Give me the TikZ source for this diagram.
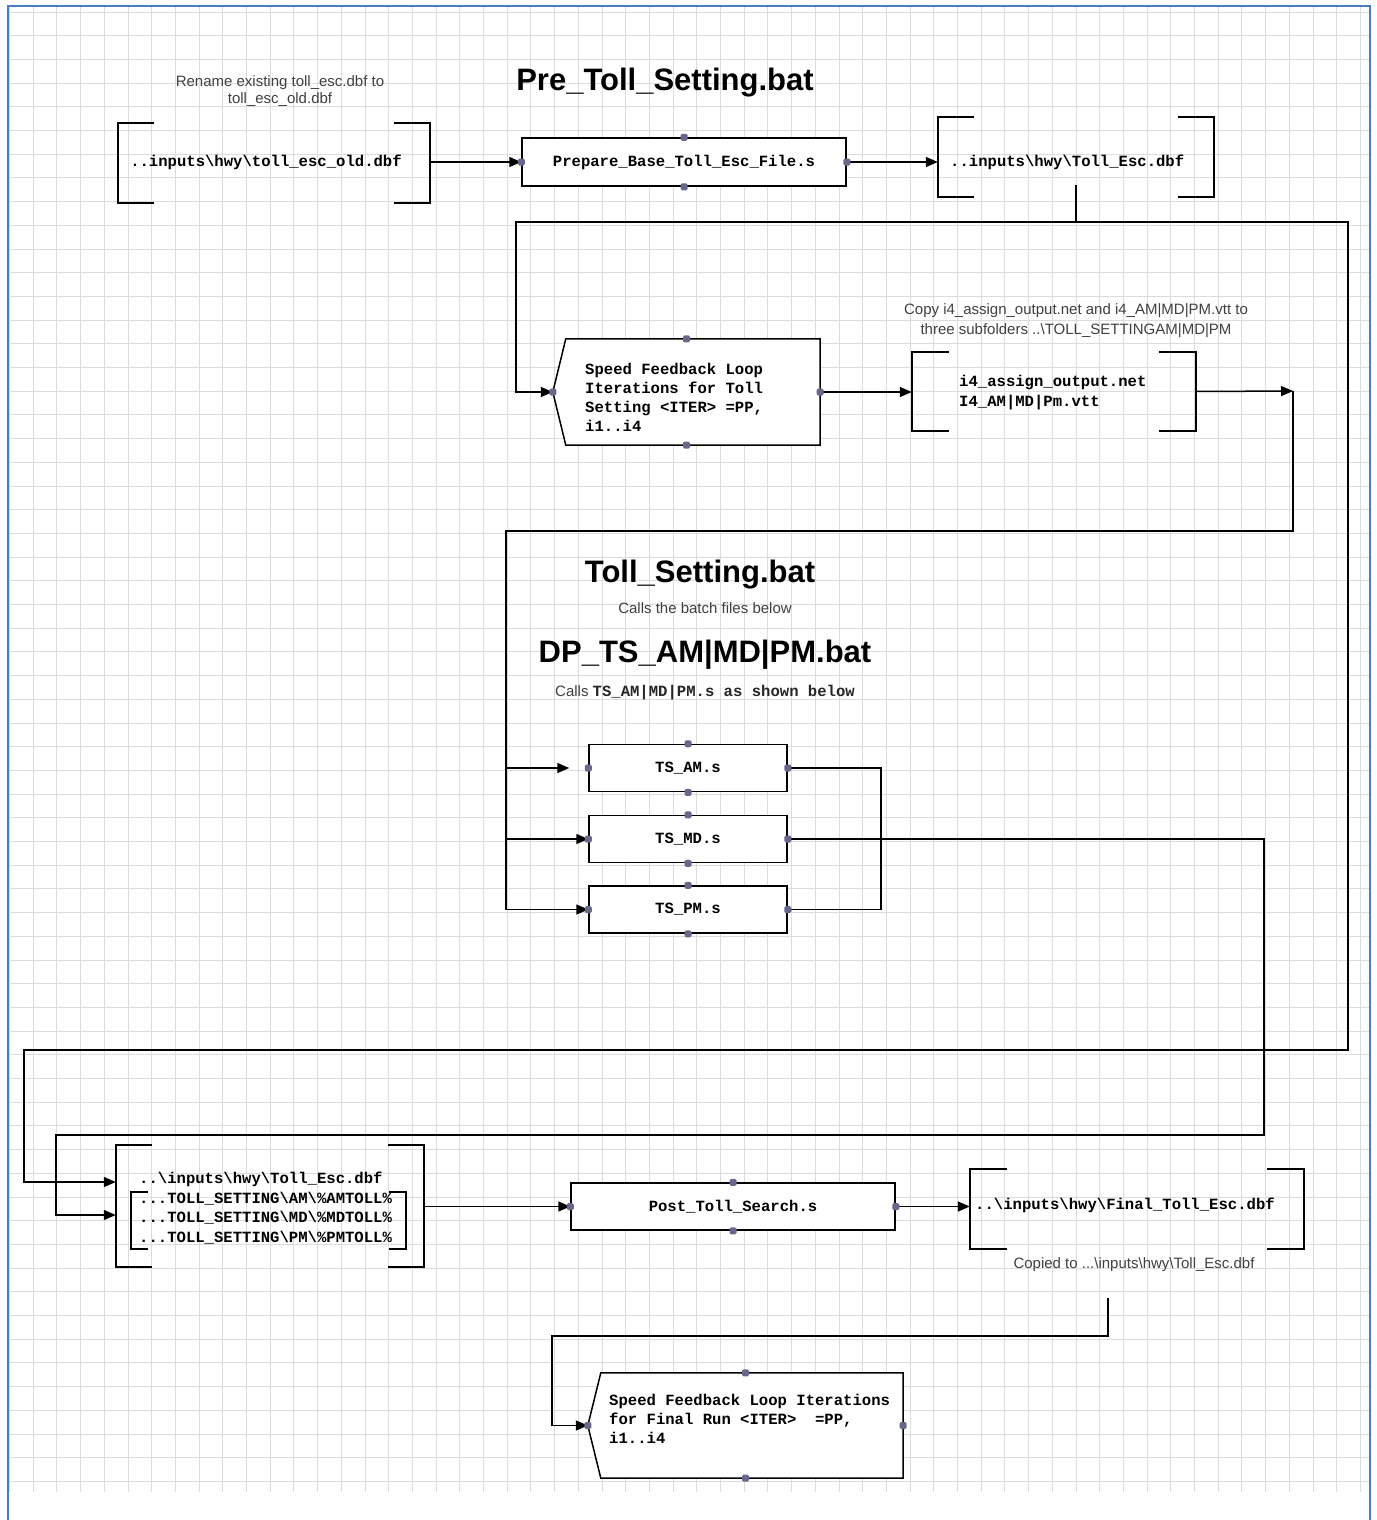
\documentclass[tikz,border=0pt]{standalone}
\usepackage{fontspec}
\setmainfont{Liberation Sans}
\newfontfamily\cour{Liberation Mono}
\usetikzlibrary{arrows.meta,calc}
\definecolor{dotc}{RGB}{104,104,140}
\definecolor{framec}{RGB}{74,124,196}
\definecolor{gridc}{RGB}{220,220,220}
\definecolor{notec}{RGB}{64,64,64}
\newcommand\portdots[1]{\foreach \a in {north,south,east,west}{\fill[dotc,rounded corners=1.5pt] ([shift={(-3.5pt,-3.5pt)}]#1.\a) rectangle ++(7pt,7pt);}}
\newcommand\bracketpair[2]{%
  \draw[bl] ([xshift=#2]#1.north west) -- (#1.north west) -- (#1.south west) -- ([xshift=#2]#1.south west);
  \draw[bl] ([xshift=-#2]#1.north east) -- (#1.north east) -- (#1.south east) -- ([xshift=-#2]#1.south east);}
\newcommand\notchshape[2]{\draw[ln,fill=white] ([xshift=#2]#1.north west) -- (#1.north east) -- (#1.south east) -- ([xshift=#2]#1.south west) -- (#1.west) -- cycle;}
\begin{document}
\begin{tikzpicture}[x=1pt,y=-1pt,
  bl/.style={line width=1.5pt,black},
  ln/.style={line width=1.5pt,black},
  ar/.style={ln,-{Triangle[length=12pt,width=10pt]}},
  box/.style={draw,line width=1.5pt,fill=white,inner sep=0pt,font=\cour\bfseries\fontsize{15.6}{19}\selectfont},
  hold/.style={draw=none,inner sep=0pt},
  mono/.style={inner sep=0pt,font=\cour\bfseries\fontsize{15.6}{19.5}\selectfont,align=left},
  note/.style={inner sep=0pt,text=notec,font=\fontsize{15}{17}\selectfont,align=center},
  title/.style={inner sep=0pt,font=\bfseries\fontsize{31}{36}\selectfont}]
\useasboundingbox (0,0) rectangle (1376,1520);
\fill[white] (0,0) rectangle (1376,1520);
% grid
\foreach \i in {0,...,57}{\draw[gridc,line width=0.9pt] ({9.5+23.7*\i},6) -- ++(0,1486);}
\foreach \i in {0,...,62}{\draw[gridc,line width=0.9pt] (9.5,{12+23.7*\i}) -- (1370,{12+23.7*\i});}
\draw[framec,line width=2pt] (8,1520) -- (8,6) -- (1370,6) -- (1370,1520);

% titles and notes
\node[note] (n1) at (280,91) {Rename existing toll\_esc.dbf to\\toll\_esc\_old.dbf};
\node[title] (t1) at (665,83) {Pre\_Toll\_Setting.bat};
\node[note,font=\fontsize{15}{20}\selectfont] (n2) at (1076,321) {Copy i4\_assign\_output.net and i4\_AM|MD|PM.vtt to\\three subfolders ..\textbackslash TOLL\_SETTINGAM|MD|PM};
\node[title] (t2) at (700,575) {Toll\_Setting.bat};
\node[note] (n3) at (705,608) {Calls the batch files below};
\node[title] (t3) at (705,655) {DP\_TS\_AM|MD|PM.bat};
\node[note] (n4) at (705,693) {Calls {\cour\bfseries\fontsize{15.6}{19}\selectfont\color{black!85} TS\_AM|MD|PM.s as shown below}};
\node[note] (n5) at (1134,1265) {Copied to ...\textbackslash inputs\textbackslash hwy\textbackslash Toll\_Esc.dbf};

% bracket stores
\node[hold,minimum width=312pt,minimum height=80pt] (b1) at (274,163) {};
\bracketpair{b1}{36pt}
\node[mono] (b1t) at (266,162) {..inputs\textbackslash hwy\textbackslash toll\_esc\_old.dbf};

\node[hold,minimum width=276pt,minimum height=80pt] (b2) at (1076,157) {};
\bracketpair{b2}{36pt}
\node[mono,anchor=west] (b2t) at (950,162) {..inputs\textbackslash hwy\textbackslash Toll\_Esc.dbf};

\node[hold,minimum width=284pt,minimum height=79pt] (b3) at (1054,391.5) {};
\bracketpair{b3}{37pt}
\node[mono,anchor=north west] (b3t) at (959,375) {i4\_assign\_output.net\\I4\_AM|MD|Pm.vtt};

\node[hold,minimum width=308pt,minimum height=122pt] (b5) at (270,1206) {};
\bracketpair{b5}{36pt}
\node[hold,minimum width=275pt,minimum height=57pt] (b5i) at (268.5,1220.5) {};
\bracketpair{b5i}{17pt}
\node[mono,anchor=north west] (b5t) at (139,1172) {..\textbackslash inputs\textbackslash hwy\textbackslash Toll\_Esc.dbf\\...TOLL\_SETTING\textbackslash AM\textbackslash \%AMTOLL\%\\...TOLL\_SETTING\textbackslash MD\textbackslash \%MDTOLL\%\\...TOLL\_SETTING\textbackslash PM\textbackslash \%PMTOLL\%};

\node[hold,minimum width=334pt,minimum height=80pt] (b4) at (1137,1209) {};
\bracketpair{b4}{37pt}
\node[mono,anchor=west] (b4t) at (975,1205) {..\textbackslash inputs\textbackslash hwy\textbackslash Final\_Toll\_Esc.dbf};

% process boxes
\node[box,minimum width=324pt,minimum height=48pt] (prep) at (684,162) {Prepare\_Base\_Toll\_Esc\_File.s};
\node[box,minimum width=198pt,minimum height=47pt] (tsam) at (688,768) {TS\_AM.s};
\node[box,minimum width=198pt,minimum height=47pt] (tsmd) at (688,839) {TS\_MD.s};
\node[box,minimum width=198pt,minimum height=47pt] (tspm) at (688,909.5) {TS\_PM.s};
\node[box,minimum width=324pt,minimum height=47pt] (post) at (733,1206.5) {Post\_Toll\_Search.s};

\node[hold,minimum width=267pt,minimum height=106pt] (sf1) at (686.5,392) {};
\notchshape{sf1}{13pt}
\node[mono,anchor=north west,font=\cour\bfseries\fontsize{15.6}{19}\selectfont] (sf1t) at (585,363) {Speed Feedback Loop\\Iterations for Toll\\Setting <ITER> =PP,\\i1..i4};

\node[hold,minimum width=315pt,minimum height=105pt] (sf2) at (745.5,1425.5) {};
\notchshape{sf2}{13pt}
\node[mono,anchor=north west,font=\cour\bfseries\fontsize{15.6}{19}\selectfont] (sf2t) at (609,1394) {Speed Feedback Loop Iterations\\for Final Run <ITER>~ =PP,\\i1..i4};

% junction coordinates
\coordinate (ja) at (516,222);
\coordinate (jr) at (1293,391);
\coordinate (jl) at (506,531);
\coordinate (jm) at (881,839);
\coordinate (cp) at (1108,1298);

% connectors
\draw[ar] (b1.east |- prep.west) -- (prep.west);
\draw[ar] (prep.east) -- (prep.east -| b2.west);
\draw[ar] ([yshift=12pt]b2.south) |- (ja) |- (sf1.west);
\draw[ar] ([yshift=12pt]b2.south) |- (1348,222) -- (1348,1050) -- (24,1050) |- ([yshift=24pt]b5.west);
\draw[ar] (sf1.east) -- (sf1.east -| b3.west);
\draw[ar] (b3.east) -- (jr);
\draw[ar] (jr) |- (jl) |- (tspm.west);
\draw[ar] (jl |- tsam.west) -- ([xshift=-19pt]tsam.west);
\draw[ar] (jl |- tsmd.west) -- (tsmd.west);
\draw[ln] (tsam.east) -- (tsam.east -| jm) |- (tspm.east);
\draw[ar] (tsmd.east) -- (1264,839) |- (56,1135) |- ([yshift=-9pt]b5.west);
\draw[ar] (b5.east |- post.west) -- (post.west);
\draw[ar] (post.east) -- (post.east -| b4.west);
\draw[ar] (cp) |- (552,1336) |- (sf2.west);

% ports
\portdots{prep}
\portdots{sf1}
\portdots{tsam}
\portdots{tsmd}
\portdots{tspm}
\portdots{post}
\portdots{sf2}
\end{tikzpicture}
\end{document}
